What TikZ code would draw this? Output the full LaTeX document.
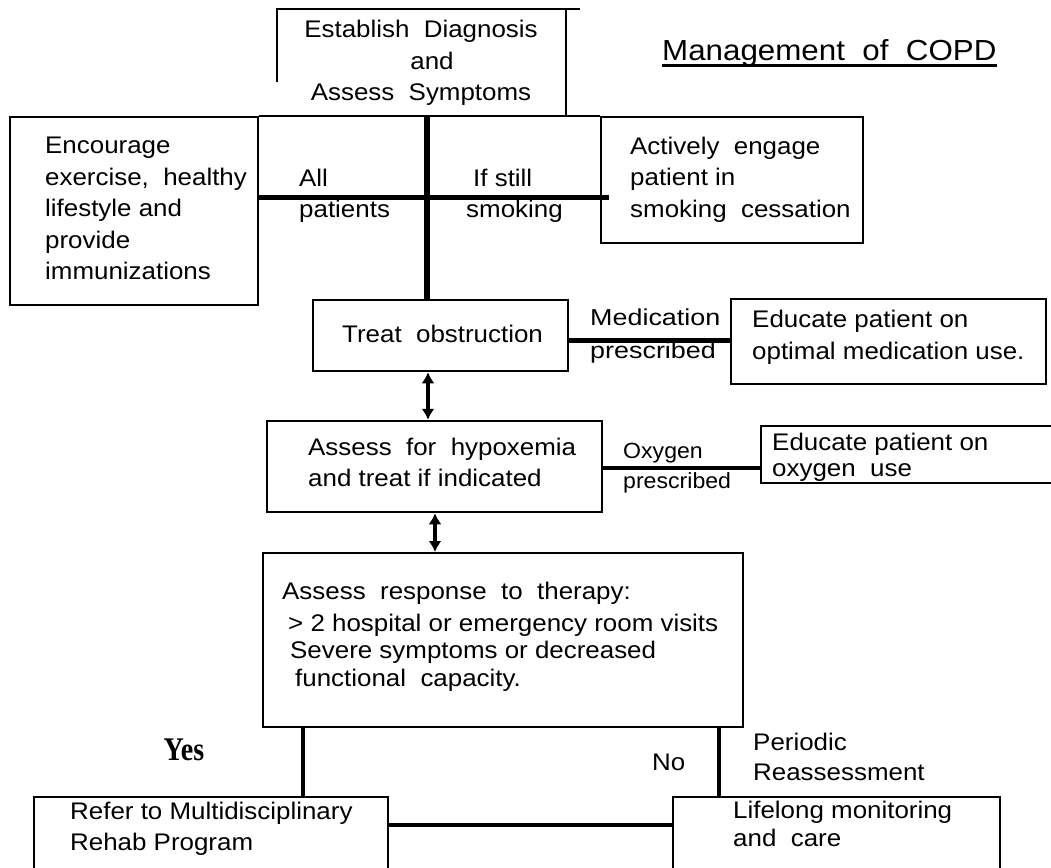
\documentclass[tikz,border=0pt]{standalone}
\usepackage{fontspec}
\setmainfont{Liberation Sans}[FakeStretch=1.08]
\newfontfamily\medfont{Liberation Sans}[FakeStretch=1.17]
\newfontfamily\oxyfont{Liberation Sans}[FakeStretch=1.05]
\newfontfamily\yesfont{Liberation Serif}[FakeStretch=0.85]
\usetikzlibrary{arrows.meta,calc}
\begin{document}
\begin{tikzpicture}[x=1pt,y=-1pt,
  boxn/.style={draw, line width=2pt, inner sep=0},
  hidden/.style={inner sep=0},
  txt/.style={inner sep=0, anchor=west, align=left, font=\fontsize{24}{31.5}\selectfont},
  ctxt/.style={inner sep=0, align=center, font=\fontsize{24}{31.5}\selectfont},
  thickline/.style={line width=5pt},
  midline/.style={line width=4pt},
  thinline/.style={line width=2pt},
  biarrow/.style={line width=4pt, {Latex[length=11pt,width=13pt]}-{Latex[length=11pt,width=13pt]}},
]
\path[fill=white] (0,0) rectangle (1051,867);
\useasboundingbox (0,0) rectangle (1051,867);

% boxes
\node[hidden, minimum width=289, minimum height=108] (diag) at (421.5,63) {};
\node[boxn, minimum width=248, minimum height=188] (enc) at (134,211) {};
\node[boxn, minimum width=262, minimum height=126] (act) at (732,180) {};
\node[boxn, line width=2.5pt, minimum width=255, minimum height=71] (treat) at (440.5,335.5) {};
\node[boxn, minimum width=315, minimum height=85] (edmed) at (888.5,341.5) {};
\node[boxn, line width=2.5pt, minimum width=335, minimum height=91] (hyp) at (434.5,466.5) {};
\node[boxn, minimum width=320, minimum height=57] (edoxy) at (921,454) {};
\node[boxn, minimum width=480, minimum height=174] (resp) at (503,640) {};
\node[boxn, minimum width=354, minimum height=110] (refer) at (211,852) {};
\node[boxn, minimum width=327, minimum height=110] (life) at (836.5,852) {};

% open top box
\draw[thinline] ($(diag.north west)+(0,73)$) -- (diag.north west) -- ($(diag.north east)+(14,0)$);
\draw[thinline] (diag.north east) -- (diag.south east);
\draw[thinline] (enc.north east) -- (act.north west);

% helper coordinates
\coordinate (sp) at (427,0);
\coordinate (hz) at (0,197);
\coordinate (my) at (0,340);
\coordinate (a1) at (428,0);
\coordinate (oy) at (0,468);
\coordinate (a2) at (435,0);
\coordinate (yx) at (303,0);
\coordinate (nx) at (719,0);
\coordinate (by) at (0,825);

% connectors
\draw[line width=6pt] (enc.north -| sp) -- (treat.north -| sp);
\draw[thickline] (enc.east |- hz) -- ($(act.west |- hz)+(9,0)$);
\draw[thickline] (treat.east |- my) -- (edmed.west |- my);
\draw[biarrow] (treat.south -| a1) -- (hyp.north -| a1);
\draw[line width=4.5pt] (hyp.east |- oy) -- (edoxy.west |- oy);
\draw[biarrow] (hyp.south -| a2) -- (resp.north -| a2);
\draw[midline] (resp.south -| yx) -- (refer.north -| yx);
\draw[midline] (resp.south -| nx) -- (life.north -| nx);
\draw[midline] (refer.east |- by) -- (life.west |- by);

% texts
\node[ctxt] (diagT) at (421,63) {Establish\ \ Diagnosis\\\hspace*{22pt}and\\Assess\ \ Symptoms};
\node[inner sep=0, anchor=west, font=\fontsize{29}{30}\selectfont] (title) at (662,53) {Management\ \ of\ \ COPD};
\draw[line width=2.5pt] ($(title.base west)+(0,5)$) -- ($(title.base east)+(0,5)$);

\node[txt] (encT) at (45,208.5) {Encourage\\exercise,\ \ healthy\\lifestyle and\\provide\\immunizations};
\node[txt] (allT) at (299,196) {All\\patients};
\node[txt] (ifT) at (466,196) {\hspace*{7pt}If still\\smoking};
\node[txt] (actT) at (630,179.5) {Actively\ \ engage\\patient in\\smoking\ \ cessation};
\node[txt] (treatT) at (342,334) {Treat\ \ obstruction};
\node[txt, font=\medfont\fontsize{23}{33}\selectfont] (medT) at (590,336) {Medication\\prescribed};
\node[txt] (edmedT) at (752,337.5) {Educate patient on\\optimal medication use.};
\node[txt] (hypT) at (308,462.5) {Assess\ \ for\ \ hypoxemia\\and treat if indicated};
\node[txt, font=\oxyfont\fontsize{22}{30}\selectfont] (oxyT) at (623,468) {Oxygen\\prescribed};
\node[txt, font=\fontsize{24}{26}\selectfont] (edoxyT) at (772,457.5) {Educate patient on\\oxygen\ \ use};
\node[txt] (r1) at (282,593) {Assess\ \ response\ \ to\ \ therapy:};
\node[txt] (r2) at (288,625) {> 2 hospital or emergency room visits};
\node[txt] (r3) at (290,652) {Severe symptoms or decreased};
\node[txt] (r4) at (295,680) {functional\ \ capacity.};
\node[inner sep=0, font=\yesfont\bfseries\fontsize{33}{33}\selectfont] (yesT) at (184,750) {Yes};
\node[txt] (noT) at (652,762) {No};
\node[txt, font=\fontsize{24}{30}\selectfont] (perT) at (753,757) {Periodic\\Reassessment};
\node[txt, font=\fontsize{24}{31}\selectfont] (refT) at (70,829) {Refer to Multidisciplinary\\Rehab Program};
\node[txt, font=\fontsize{24}{28}\selectfont] (lifeT) at (733,823.5) {Lifelong monitoring\\and\ \ care};
\end{tikzpicture}
\end{document}
